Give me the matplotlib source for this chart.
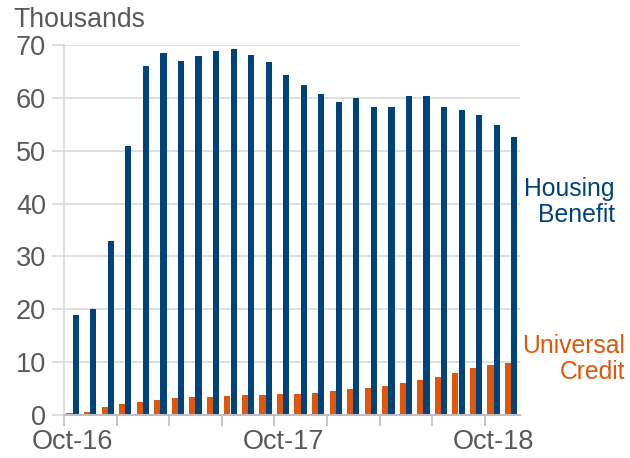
import numpy as np
import matplotlib.pyplot as plt

plt.rcParams['font.family'] = ['Liberation Sans', 'DejaVu Sans']

# monthly figures, Oct-16 to Nov-18 (thousands)
months = ["Oct-16", "Nov-16", "Dec-16", "Jan-17", "Feb-17", "Mar-17", "Apr-17",
          "May-17", "Jun-17", "Jul-17", "Aug-17", "Sep-17", "Oct-17", "Nov-17",
          "Dec-17", "Jan-18", "Feb-18", "Mar-18", "Apr-18", "May-18", "Jun-18",
          "Jul-18", "Aug-18", "Sep-18", "Oct-18", "Nov-18"]
housing_benefit = [19.0, 20.0, 32.9, 50.9, 66.1, 68.5, 66.9, 68.0, 68.8, 69.2,
                   68.2, 66.7, 64.4, 62.5, 60.8, 59.3, 60.0, 58.3, 58.3, 60.3,
                   60.4, 58.3, 57.7, 56.7, 54.8, 52.6]
universal_credit = [0.4, 0.6, 1.45, 2.0, 2.5, 2.8, 3.2, 3.4, 3.5, 3.6, 3.8, 3.85,
                    4.0, 4.0, 4.2, 4.5, 4.9, 5.2, 5.5, 6.0, 6.6, 7.2, 7.9, 8.8,
                    9.4, 9.9]
label_months = ["Oct-16", "Oct-17", "Oct-18"]

blue = "#00427a"
orange = "#e0560a"
grey = "#595959"
grid_col = "#d9d9d9"

fig = plt.figure(figsize=(6.3, 4.58), dpi=100)
ax = fig.add_axes([64/630, 43/458, 456/630, 370/458])

x = np.arange(len(months))
w = 0.35
ax.bar(x - 0.185, universal_credit, width=w, color=orange, zorder=3)
ax.bar(x + 0.17, housing_benefit, width=w, color=blue, zorder=3)

ax.set_xlim(-0.5, len(months) - 0.5)
ax.set_ylim(0, 70)
ax.set_yticks(range(0, 71, 10))
ax.yaxis.grid(True, color=grid_col, linewidth=1.2, zorder=0)

# tick marks on month boundaries every quarter, labels on Octobers
ax.set_xticks(np.arange(-0.5, len(months) - 1, 3))
ax.set_xticklabels([])
ax.set_xticks([months.index(m) for m in label_months], minor=True)
ax.set_xticklabels(label_months, minor=True)
ax.tick_params(axis='x', which='major', length=8, width=1.2, color="#bfbfbf")
ax.tick_params(axis='x', which='minor', length=0, pad=10, labelsize=19.5, labelcolor=grey)
ax.tick_params(axis='y', length=9, width=1.2, color=grid_col, pad=4,
               labelsize=19.5, labelcolor=grey)

for s in ['top', 'right']:
    ax.spines[s].set_visible(False)
ax.spines['left'].set_color(grid_col)
ax.spines['left'].set_linewidth(1.2)
ax.spines['bottom'].set_color("#bfbfbf")
ax.spines['bottom'].set_linewidth(1.5)
ax.spines['bottom'].set_zorder(4)

fig.text(13/630, 1 - 20/458, "Thousands", fontsize=19.2, color=grey,
         ha='left', va='center')
fig.text(615/630, 1 - 202/458, "Housing\nBenefit", fontsize=17.8, color=blue,
         ha='right', va='center', linespacing=1.1)
fig.text(625/630, 1 - 359/458, "Universal\nCredit", fontsize=17.8, color=orange,
         ha='right', va='center', linespacing=1.1)

fig.savefig("out.png", dpi=100)
